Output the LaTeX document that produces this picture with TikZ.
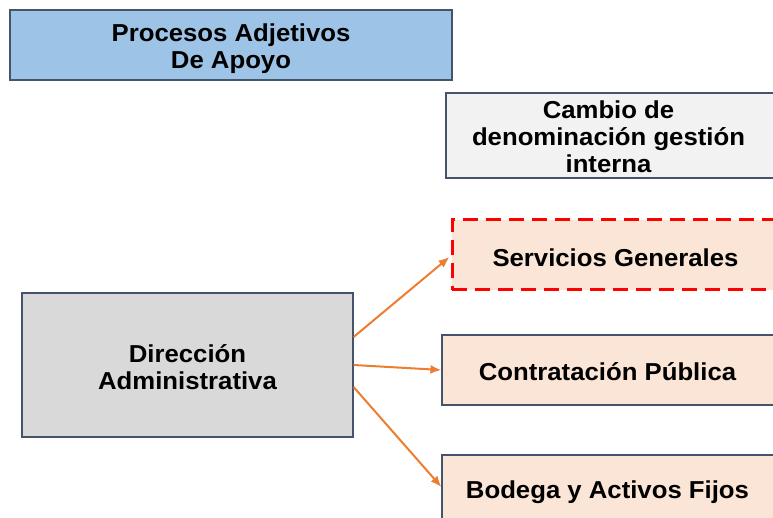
\documentclass[tikz,border=0pt]{standalone}
\usepackage{fontspec}
\setmainfont{Liberation Sans}[FakeStretch=1.05]
\usetikzlibrary{arrows.meta,calc}
\definecolor{bluefill}{HTML}{9DC3E6}
\definecolor{edgeline}{HTML}{44546A}
\definecolor{grayfill}{HTML}{D9D9D9}
\definecolor{lightfill}{HTML}{F2F2F2}
\definecolor{peach}{HTML}{FBE5D6}
\definecolor{arrorange}{HTML}{ED7D31}
\definecolor{dashred}{HTML}{FF0000}
\begin{document}
\begin{tikzpicture}[x=1pt,y=-1pt,
  box/.style={draw=edgeline,line width=1.2pt,inner sep=0pt},
  lab/.style={align=center,inner sep=0pt,font=\fontsize{24.5}{27}\selectfont\bfseries},
  arr/.style={draw=arrorange,line width=2pt,-{Latex[length=11pt,width=9pt]}}]
\useasboundingbox (0,0) rectangle (773,518);
\node[box,fill=bluefill,minimum width=442pt,minimum height=70pt,
  label={[lab,yshift=-4pt]center:{Procesos Adjetivos\\De Apoyo}}] (top) at (231,45) {};
\node[box,fill=lightfill,minimum width=329pt,minimum height=85pt,
  label={[lab,yshift=-1pt,xshift=-2pt]center:{Cambio de\\denominación gestión\\interna}}] (cambio) at (610.5,135.5) {};
\node[box,draw=dashred,line width=3pt,dash pattern=on 15pt off 8pt,fill=peach,minimum width=323pt,minimum height=70pt,
  label={[lab,yshift=-3pt,xshift=2pt]center:{Servicios Generales}}] (serv) at (613.5,255) {};
\node[box,fill=peach,minimum width=333pt,minimum height=70pt,
  label={[lab,yshift=-2pt,xshift=-1pt]center:{Contratación Pública}}] (contr) at (608.5,370) {};
\node[box,fill=peach,minimum width=333pt,minimum height=70pt,
  label={[lab,yshift=-2pt,xshift=-1pt]center:{Bodega y Activos Fijos}}] (bod) at (608.5,490) {};
\node[box,fill=grayfill,minimum width=331pt,minimum height=144pt,
  label={[lab,yshift=-2pt]center:{Dirección\\Administrativa}}] (dir) at (187.5,365) {};
\coordinate (s1) at ($(dir.east)+(0,-28)$);
\coordinate (s3) at ($(dir.east)+(0,22)$);
\coordinate (e1) at ($(serv.west)+(-1,2)$);
\coordinate (e3) at ($(bod.west)+(0,-3)$);
\draw[arr] (s1) -- (e1);
\draw[arr] (dir.east) -- (contr.west);
\draw[arr] (s3) -- (e3);
\end{tikzpicture}
\end{document}
